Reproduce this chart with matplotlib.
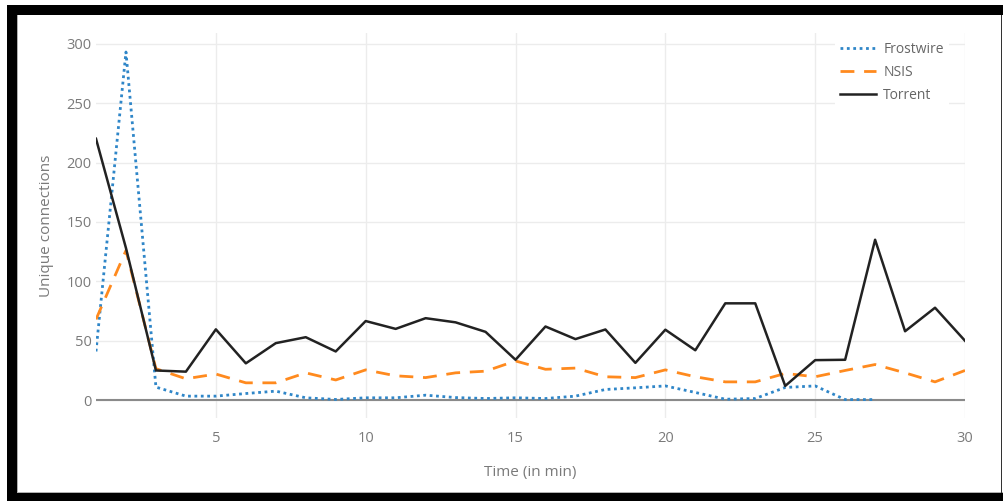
import numpy as np
import matplotlib.pyplot as plt
from matplotlib.patches import Rectangle

plt.rcParams['font.family'] = ['Open Sans', 'DejaVu Sans']

# -----データ-----
minutes = list(range(1, 31))
frostwire = [41, 293, 11, 3.4, 3.4, 5.6, 7.6, 2, 0.6, 2,
             2, 4.2, 2.2, 1.4, 2, 1.4, 3.4, 9, 10.4, 12,
             6.5, 0.8, 1.4, 10.7, 12, 0.5, 0.5, np.nan, np.nan, np.nan]
nsis = [68, 126, 26.5, 18, 22, 14.6, 14.6, 23, 17, 25.5,
        20.5, 19, 23, 24.4, 33, 26, 27, 19.7, 19, 25.5,
        19.7, 15.4, 15.4, 22.5, 19.7, 25, 30, 23, 15.4, 25]
torrent = [220, 128, 25, 24, 59.6, 31, 48, 53, 41, 66.6,
           60, 69, 65.5, 57.5, 34, 62, 51.4, 59.5, 31.4, 59.3,
           42, 81.5, 81.5, 12, 33.7, 34, 135, 58, 77.8, 50]
x_ticks = [5, 10, 15, 20, 25, 30]
y_ticks = [0, 50, 100, 150, 200, 250, 300]
# ----------------

W, H = 1004, 501
fig = plt.figure(figsize=(W / 100, H / 100), dpi=100)
ax = fig.add_axes([96 / W, 1 - 418 / H, (965 - 96) / W, (418 - 33) / H])

ax.plot(minutes, frostwire, color='#2f86c8', lw=2.0, ls=(0, (1, 1.3)),
        label='Frostwire', zorder=3)
ax.plot(minutes, nsis, color='#ff8a1e', lw=2.0, ls=(0, (5, 3.5)),
        label='NSIS', zorder=3)
ax.plot(minutes, torrent, color='#222222', lw=1.8, label='Torrent', zorder=4)

ax.set_xlim(1, 30)
ax.set_ylim(-15, 309)
ax.set_xticks(x_ticks)
ax.set_yticks(y_ticks)
ax.grid(True, color='#ececec', lw=1.0)
ax.set_axisbelow(True)
ax.axhline(0, color='#8a8a8a', lw=1.5, zorder=2)
for s in ax.spines.values():
    s.set_visible(False)
ax.tick_params(length=0, labelsize=10.5, labelcolor='#7a7a7a', pad=3)
ax.tick_params(axis='x', pad=9)

ax.set_xlabel('Time (in min)', fontsize=11, color='#7a7a7a', labelpad=14)
ax.set_ylabel('Unique connections', fontsize=11, color='#7a7a7a', labelpad=9)

leg = ax.legend(loc='upper left', bbox_to_anchor=(0.842, 1.01), fontsize=10,
                frameon=True, facecolor='white', edgecolor='none',
                framealpha=1, fancybox=False, handlelength=2.6,
                handletextpad=0.5, labelspacing=0.6, borderpad=0.4)
for t in leg.get_texts():
    t.set_color('#666666')

# -----枠-----
def px_rect(x0, y0, x1, y1, color):
    fig.add_artist(Rectangle((x0 / W, 1 - y1 / H), (x1 - x0) / W, (y1 - y0) / H,
                             transform=fig.transFigure, color=color, lw=0,
                             zorder=10))

px_rect(7, 5, W, 15, 'black')
px_rect(7, 5, 17, 493, 'black')
px_rect(7, 493, W, H, 'black')
px_rect(17, 15, 18, 493, '#b0b0b0')
px_rect(17, 492, W, 493, '#b0b0b0')
px_rect(1001, 15, 1002, 493, '#333333')

fig.savefig('out.png', dpi=100)
